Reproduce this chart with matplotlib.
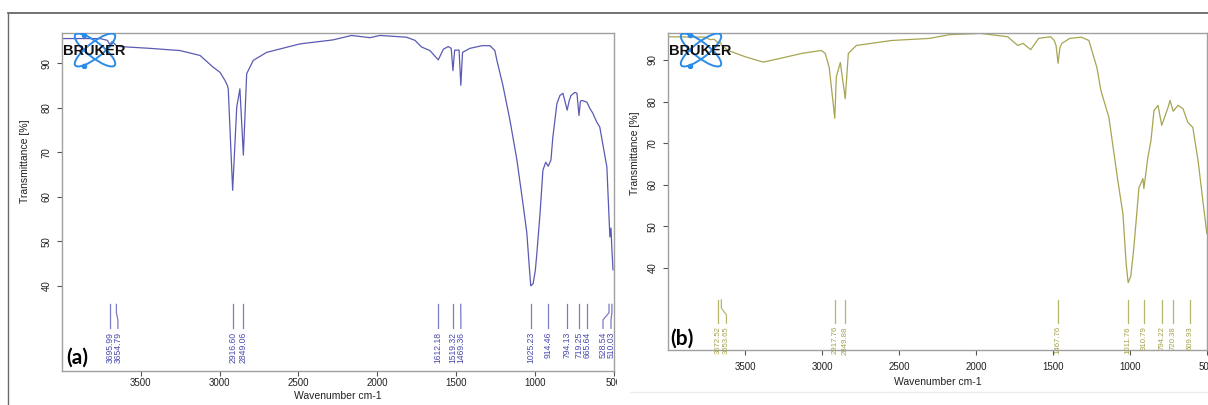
import matplotlib.pyplot as plt
import matplotlib.transforms as mtransforms
from matplotlib.patches import Ellipse, Rectangle
from matplotlib.lines import Line2D

plt.rcParams['font.family'] = ['Liberation Sans', 'DejaVu Sans']

# FTIR spectrum (a): wavenumber [cm-1] and transmittance [%]
wn_a = [4000, 3759, 3712, 3696, 3683, 3668, 3655, 3632, 3442, 3251, 3124, 3042,
        2997, 2966, 2951, 2945, 2917, 2891, 2871, 2849, 2828, 2786, 2701, 2490,
        2280, 2162, 2046, 1982, 1813, 1760, 1718, 1665, 1612, 1580, 1549, 1530,
        1519, 1508, 1480, 1469, 1458, 1411, 1335, 1284, 1253, 1240, 1202, 1157,
        1113, 1075, 1050, 1035, 1025, 1010, 996, 986, 967, 948, 930, 914, 897,
        885, 859, 840, 821, 808, 794, 782, 770, 745, 732, 719, 710, 701, 669,
        650, 631, 606, 587, 561, 542, 529, 523, 516, 510, 503]
t_a = [95.6, 95.6, 95.2, 94.2, 94.9, 94.5, 94.0, 93.8, 93.4, 92.9, 91.8, 89.2,
       88.0, 86.2, 85.1, 84.3, 61.5, 80.2, 84.3, 69.4, 87.7, 90.7, 92.5, 94.4,
       95.3, 96.3, 95.8, 96.3, 95.9, 95.2, 93.7, 92.9, 90.8, 93.2, 93.8, 93.4,
       88.4, 93.0, 93.0, 85.1, 92.5, 93.4, 94.0, 94.0, 92.9, 90.7, 85.1, 77.2,
       68.3, 58.6, 51.9, 44.5, 40.0, 40.5, 43.5, 47.5, 55.9, 66.0, 67.8, 66.9,
       68.3, 73.4, 81.0, 82.8, 83.3, 81.5, 79.5, 81.5, 82.8, 83.5, 83.3, 78.3,
       81.5, 81.7, 81.3, 79.9, 78.8, 76.8, 75.7, 70.5, 66.7, 55.9, 51.0, 53.0,
       48.1, 43.6]
peaks_a = [3695.99, 3654.79, 2916.60, 2849.06, 1612.18, 1519.32, 1469.36,
           1025.23, 914.46, 794.13, 719.25, 665.64, 528.54, 510.03]

# FTIR spectrum (b)
wn_b = [4000, 3759, 3727, 3700, 3672, 3660, 3653, 3610, 3499, 3382, 3271, 3131,
        3005, 2979, 2953, 2917, 2907, 2881, 2849, 2829, 2777, 2549, 2302, 2172,
        1970, 1794, 1729, 1694, 1645, 1593, 1515, 1492, 1480, 1467, 1455, 1443,
        1391, 1316, 1267, 1215, 1189, 1137, 1079, 1046, 1025, 1012, 995, 975,
        942, 916, 910, 884, 864, 844, 818, 794, 753, 740, 720, 688, 656, 624,
        592, 558, 527, 501]
t_b = [95.6, 95.5, 94.9, 95.0, 94.0, 94.3, 93.6, 92.3, 90.8, 89.5, 90.4, 91.6,
       92.3, 91.6, 88.2, 76.0, 86.0, 89.4, 80.7, 91.6, 93.5, 94.7, 95.2, 96.1,
       96.4, 95.6, 93.5, 94.0, 92.5, 95.2, 95.6, 94.7, 93.5, 89.2, 93.0, 94.0,
       95.2, 95.5, 94.7, 88.2, 82.7, 76.2, 61.0, 53.1, 41.0, 36.5, 38.0, 44.9,
       59.3, 61.5, 59.1, 66.6, 70.6, 77.9, 79.1, 74.3, 78.6, 80.3, 77.7, 79.1,
       78.3, 75.0, 73.8, 65.8, 56.2, 48.3]
peaks_b = [3672.52, 3653.65, 2917.76, 2849.88, 1467.76, 1011.76, 910.79,
           794.22, 720.38, 609.93]

W, H = 1208, 405
fig = plt.figure(figsize=(W / 100, H / 100), dpi=100)


def box(x0, y0, x1, y1):
    # pixel box (top-left origin) -> figure fraction rect
    return [x0 / W, 1 - y1 / H, (x1 - x0) / W, (y1 - y0) / H]


def style_axes(ax, ylim, xpad, xlabpad):
    ax.set_xlim(4000, 500)
    ax.set_ylim(*ylim)
    ax.set_xticks([3500, 3000, 2500, 2000, 1500, 1000, 500])
    ax.set_yticks([40, 50, 60, 70, 80, 90])
    for s in ax.spines.values():
        s.set_color('#a0a0a0')
        s.set_linewidth(1.0)
    ax.tick_params(axis='both', colors='#555555', labelcolor='#222222',
                   labelsize=7, length=3.5, width=0.8)
    ax.tick_params(axis='x', pad=xpad)
    ax.tick_params(axis='y', labelrotation=90, pad=4)
    for lab in ax.get_yticklabels():
        lab.set_va('center')
    ax.set_xlabel('Wavenumber cm-1', fontsize=7.5, color='#222222', labelpad=xlabpad)
    ax.set_ylabel('Transmittance [%]', fontsize=7.5, color='#222222')


def mark_peaks(ax, peaks, line_color, text_color, y_top, y_bot, size, gap=8.0):
    fig.canvas.draw()
    blend = mtransforms.blended_transform_factory(ax.transData, ax.transAxes)
    to_px = ax.transData.transform
    from_px = ax.transData.inverted().transform
    right_px = ax.transAxes.transform((1, 0))[0] - 2.5
    xs = [to_px((p, 0))[0] for p in peaks]
    # spread labels apart so neighbours do not overlap
    lab = list(xs)
    for i in range(1, len(lab)):
        lab[i] = max(lab[i], lab[i - 1] + gap)
    lab[-1] = min(lab[-1], right_px)
    for i in range(len(lab) - 2, -1, -1):
        lab[i] = min(lab[i], lab[i + 1] - gap)
    lab_wn = [from_px((x, 0))[0] for x in lab]
    span = y_top - y_bot
    for p, lw_ in zip(peaks, lab_wn):
        ax.plot([p, p, lw_, lw_],
                [y_top, y_top - 0.35 * span, y_top - 0.65 * span, y_bot],
                color=line_color, lw=0.9, transform=blend, clip_on=False)
        ax.text(lw_, y_bot - 0.01, f'{p:.2f}', rotation=90, ha='center', va='top',
                fontsize=size, color=text_color, transform=blend)


def bruker_logo(rect, z):
    lax = fig.add_axes(rect, zorder=z)
    lax.set_xlim(0, 68)
    lax.set_ylim(0, 35)
    lax.axis('off')
    lax.patch.set_alpha(0)
    for ang in (38, -38):
        lax.add_patch(Ellipse((33, 18), 50, 15, angle=ang, fill=False,
                              ec='#2b8be8', lw=1.4))
    lax.plot([22, 22], [33, 2], 'o', color='#2b8be8', ms=3)
    lax.text(32, 17, 'BRUKER', ha='center', va='center', fontsize=10.5,
             fontweight='bold', color='#111111')


# panel (a)
ax_a = fig.add_axes(box(62, 33, 613.5, 370.5), zorder=0)
ax_a.plot(wn_a, t_a, color='#5a5ab4', lw=0.9)
style_axes(ax_a, (20.97, 96.85), xpad=2, xlabpad=2)
ax_a.yaxis.set_label_coords(-0.058, 0.62)
ax_a.text(0.007, 0.008, '(a)', transform=ax_a.transAxes, fontsize=15,
          fontweight='bold', family=['Lato', 'DejaVu Sans'], va='bottom')
bruker_logo(box(62, 33, 130, 68), 0.2)

# the second image sits on top of the first one
fig.patches.append(Rectangle((617 / W, 0), 1, 1 - 14 / H, transform=fig.transFigure,
                             facecolor='white', edgecolor='none', zorder=0.5))

# panel (b)
ax_b = fig.add_axes(box(668, 33, 1207, 350), zorder=1)
ax_b.plot(wn_b, t_b, color='#a7a552', lw=0.9)
style_axes(ax_b, (20.3, 96.5), xpad=5, xlabpad=4)
ax_b.yaxis.set_label_coords(-0.052, 0.62)
ax_b.text(0.004, 0.003, '(b)', transform=ax_b.transAxes, fontsize=15,
          fontweight='bold', family=['Lato', 'DejaVu Sans'], va='bottom')
bruker_logo(box(668, 33, 736, 68), 1.2)

mark_peaks(ax_a, peaks_a, '#7a7ac6', '#4a4aae', 0.196, 0.125, 6.2)
mark_peaks(ax_b, peaks_b, '#b8b66a', '#a3a04a', 0.158, 0.085, 5.6)

# frame lines around the composite
fig.add_artist(Line2D([8 / W, 1], [1 - 13 / H] * 2, color='#5a5a5a', lw=1.2, zorder=3))
fig.add_artist(Line2D([8 / W, 8 / W], [0, 1 - 13 / H], color='#6a6a6a', lw=1.0, zorder=3))
fig.add_artist(Line2D([630 / W, 1], [1 - 392 / H] * 2, color='#ececec', lw=1.0, zorder=3))

fig.savefig('out.png', dpi=100)
